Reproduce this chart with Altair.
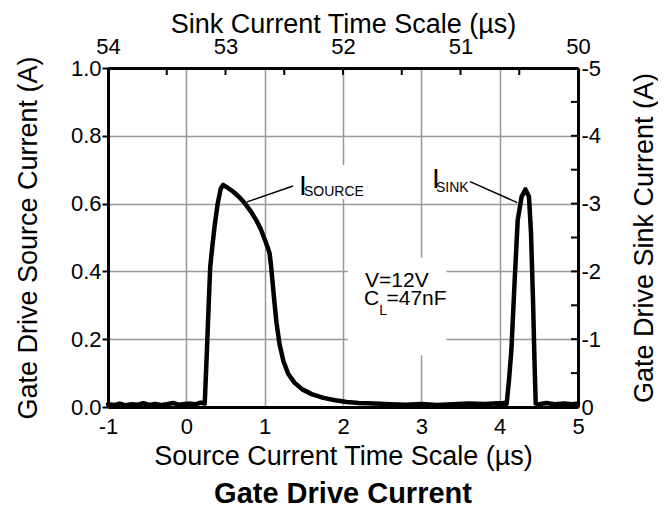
import altair as alt
import pandas as pd

# ---- data ----
# Source current trace: bottom axis (µs), left axis (A)
src_time = [-1.00, -0.92, -0.85, -0.77, -0.70, -0.62, -0.55, -0.47, -0.40, -0.32,
            -0.25, -0.17, -0.10, -0.02, 0.05, 0.12, 0.18, 0.22, 0.235, 0.26,
            0.285, 0.305, 0.33, 0.36, 0.40, 0.44, 0.47, 0.52, 0.60, 0.68,
            0.75, 0.82, 0.89, 0.95, 1.00, 1.04, 1.063, 1.08, 1.10, 1.12,
            1.15, 1.19, 1.24, 1.30, 1.38, 1.48, 1.60, 1.75, 1.90, 2.05,
            2.20, 2.40, 2.60, 2.80, 3.00, 3.20, 3.40, 3.60, 3.80, 4.00, 4.08]
src_current = [0.008, 0.006, 0.010, 0.005, 0.008, 0.007, 0.011, 0.006, 0.009, 0.006,
               0.008, 0.012, 0.007, 0.009, 0.010, 0.008, 0.013, 0.011, 0.010, 0.15,
               0.30, 0.414, 0.47, 0.532, 0.60, 0.645, 0.655, 0.648, 0.635, 0.618,
               0.600, 0.578, 0.552, 0.525, 0.495, 0.470, 0.453, 0.42, 0.37, 0.32,
               0.25, 0.185, 0.135, 0.098, 0.072, 0.052, 0.038, 0.027, 0.020, 0.015,
               0.012, 0.010, 0.008, 0.007, 0.009, 0.006, 0.008, 0.010, 0.009, 0.011, 0.008]

# Sink current trace: top axis (µs), right axis (A)
sink_time = [50.70, 50.66, 50.63, 50.607, 50.587, 50.567, 50.54, 50.513, 50.48, 50.447,
             50.417, 50.40, 50.383, 50.369, 50.36, 50.33, 50.27, 50.20, 50.12, 50.05, 50.00]
sink_current = [-0.05, -0.04, -0.06, -0.05, -0.40, -0.84, -1.83, -2.76, -3.10, -3.21,
                -3.10, -2.57, -1.58, -0.60, -0.05, -0.04, -0.06, -0.04, -0.05, -0.04, -0.05]

# axis tick values
bottom_ticks = [-1, -0.5, 0, 0.5, 1, 1.5, 2, 2.5, 3, 3.5, 4, 4.5, 5]
left_ticks = [0.0, 0.2, 0.4, 0.6, 0.8, 1.0]
top_ticks = [54, 53.5, 53, 52.5, 52, 51.5, 51, 50.5, 50]
right_ticks = [0, -0.5, -1, -1.5, -2, -2.5, -3, -3.5, -4, -4.5, -5]

# annotations (in source-axis units)
big_text = ["I", "I"]
big_x = [1.438, 3.136]
big_y = [0.625, 0.646]
mid_text = ["V=12V", "C", "=47nF"]
mid_x = [2.281, 2.268, 2.555]
mid_y = [0.354, 0.301, 0.301]
sub_text = ["SOURCE", "SINK", "L"]
sub_x = [1.502, 3.187, 2.462]
sub_y = [0.622, 0.634, 0.270]
lead_x = [1.362, 3.622]
lead_y = [0.652, 0.665]
lead_x2 = [0.775, 4.225]
lead_y2 = [0.605, 0.603]
box_x = [1.40, 2.06, 3.12]
box_x2 = [2.62, 3.32, 3.80]
box_y = [0.614, 0.153, 0.62]
box_y2 = [0.714, 0.44, 0.74]

FONT = "Liberation Sans, Arial"

src_df = pd.DataFrame({"x": src_time, "y": src_current})
sink_df = pd.DataFrame({"t": sink_time, "i": sink_current})
big_df = pd.DataFrame({"x": big_x, "y": big_y, "label": big_text})
mid_df = pd.DataFrame({"x": mid_x, "y": mid_y, "label": mid_text})
sub_df = pd.DataFrame({"x": sub_x, "y": sub_y, "label": sub_text})
lead_df = pd.DataFrame({"x": lead_x, "y": lead_y, "x2": lead_x2, "y2": lead_y2})
box_df = pd.DataFrame({"x": box_x, "x2": box_x2, "y": box_y, "y2": box_y2})
top_df = pd.DataFrame({"t": top_ticks})
right_df = pd.DataFrame({"i": right_ticks})

xA = alt.Scale(domain=[-1, 5], nice=False, zero=False)
yA = alt.Scale(domain=[0, 1], nice=False, zero=False)
xB = alt.Scale(domain=[54, 50], nice=False, zero=False)
yB = alt.Scale(domain=[0, -5], nice=False, zero=False)

int_label = "datum.value % 1 === 0 ? (datum.value < 0 ? '-' : '') + abs(datum.value) : ''"

common = dict(domainColor="black", domainWidth=3, labelFont=FONT, labelFontSize=22,
              labelColor="black", titleFont=FONT, titleFontSize=27,
              titleFontWeight="normal", titleColor="black", labelOverlap=False,
              labelFlush=False, labelBound=False)

ax_bottom = alt.Axis(orient="bottom", values=bottom_ticks, labelExpr=int_label,
                     ticks=False, tickSize=0, labelPadding=26, labelBaseline="alphabetic",
                     grid=True, gridColor="#999999", gridWidth=1.5,
                     title="Source Current Time Scale (µs)",
                     titleY=57, titleBaseline="alphabetic", **common)
ax_left = alt.Axis(orient="left", values=left_ticks,
                   labelExpr="format(datum.value, '.1f')",
                   ticks=True, tickSize=6, tickWidth=2, tickColor="black", labelPadding=1,
                   grid=True, gridColor="#999999", gridWidth=1.5,
                   title="Gate Drive Source Current (A)", titleAngle=270,
                   titleX=-72, titleBaseline="alphabetic", **common)
ax_top = alt.Axis(orient="top", values=top_ticks, labelExpr=int_label,
                  ticks=False, tickSize=0, labelPadding=15, labelBaseline="alphabetic",
                  grid=False, title="Sink Current Time Scale (µs)",
                  titleY=-36, titleBaseline="alphabetic", **common)
ax_right = alt.Axis(orient="right", values=right_ticks, labelExpr=int_label,
                    ticks=False, tickSize=0, labelPadding=3, grid=False,
                    title="Gate Drive Sink Current (A)", titleAngle=270,
                    titleX=74, titleBaseline="alphabetic", **common)

boxes = alt.Chart(box_df).mark_rect(color="white").encode(
    x=alt.X("x:Q", scale=xA, axis=ax_bottom), x2="x2:Q",
    y=alt.Y("y:Q", scale=yA, axis=ax_left), y2="y2:Q")
leaders = alt.Chart(lead_df).mark_rule(color="black", strokeWidth=1.5).encode(
    x=alt.X("x:Q", scale=xA), x2="x2:Q",
    y=alt.Y("y:Q", scale=yA), y2="y2:Q")
src_line = alt.Chart(src_df).mark_line(color="black", strokeWidth=4.5,
                                       strokeJoin="round", strokeCap="round").encode(
    x=alt.X("x:Q", scale=xA), y=alt.Y("y:Q", scale=yA), order="x:Q")


def text_layer(df, size):
    return alt.Chart(df).mark_text(font=FONT, fontSize=size, align="left",
                                   baseline="alphabetic", color="black").encode(
        x=alt.X("x:Q", scale=xA), y=alt.Y("y:Q", scale=yA), text="label:N")


layer_a = alt.layer(boxes, leaders, src_line,
                    text_layer(big_df, 28), text_layer(mid_df, 21), text_layer(sub_df, 14))

sink_line = alt.Chart(sink_df).mark_line(color="black", strokeWidth=4.5,
                                         strokeJoin="round", strokeCap="round").encode(
    x=alt.X("t:Q", scale=xB, axis=ax_top), y=alt.Y("i:Q", scale=yB, axis=ax_right),
    order=alt.Order("t:Q", sort="descending"))
top_tk = alt.Chart(top_df).mark_rule(color="black", strokeWidth=2).encode(
    x=alt.X("t:Q", scale=xB), y=alt.value(0), y2=alt.value(7))
right_tk = alt.Chart(right_df).mark_rule(color="black", strokeWidth=2).encode(
    y=alt.Y("i:Q", scale=yB), x=alt.value(463), x2=alt.value(470))

layer_b = alt.layer(sink_line, top_tk, right_tk)

chart = alt.layer(layer_a, layer_b).resolve_scale(
    x="independent", y="independent"
).properties(
    width=470, height=339,
    autosize=alt.AutoSizeParams(type="none"),
    padding={"left": 100, "top": 60, "right": 80, "bottom": 110},
    title=alt.TitleParams("Gate Drive Current", orient="bottom", anchor="middle",
                          font=FONT, fontSize=29, fontWeight="bold", color="black",
                          baseline="alphabetic", offset=34),
).configure_view(stroke=None).configure(background="white")

chart.save("out.html", embed_options={"renderer": "svg", "actions": False})
